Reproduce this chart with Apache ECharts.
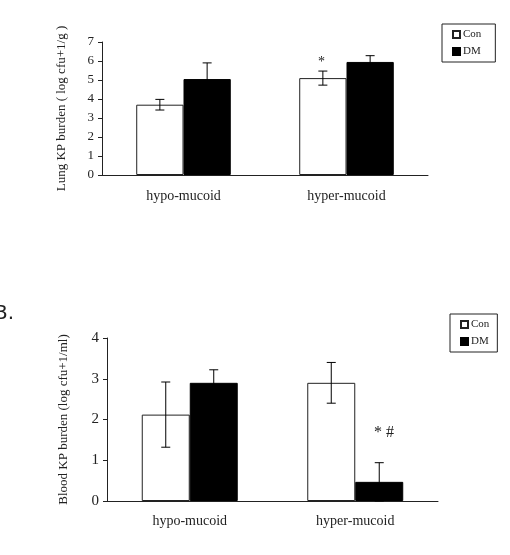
<!DOCTYPE html>
<html>
<head>
<meta charset="utf-8">
<script src="https://cdn.jsdelivr.net/npm/echarts@6/dist/echarts.min.js"></script>
<style>
html, body { margin: 0; padding: 0; background: #fff; }
#main { width: 510px; height: 555px; }
</style>
</head>
<body>
<div id="main"></div>
<script>
'use strict';

// categories
var groups = ['hypo-mucoid', 'hyper-mucoid'];

// A: lung burden (log cfu+1/g)
var lungCon = [3.7, 5.1];
var lungConErr = [0.28, 0.37];
var lungDM = [5.05, 5.95];
var lungDMErr = [0.85, 0.33];

// B: blood burden (log cfu+1/ml)
var bloodCon = [2.12, 2.9];
var bloodConErr = [0.8, 0.5];
var bloodDM = [2.9, 0.47];
var bloodDMErr = [0.32, 0.47];

var serifFont = '"Liberation Serif", "DejaVu Serif", serif';
var barPct = 0.29;

function errData(vals, errs) {
    var out = [];
    for (var i = 0; i < vals.length; i++) {
        out.push([i, vals[i] - errs[i], vals[i] + errs[i]]);
    }
    return out;
}

// error bar drawn through the axis scales; side -1 = Con, +1 = DM
function errRender(side) {
    return function (params, api) {
        var band = api.size([1, 0])[0];
        var lo = api.coord([api.value(0), api.value(1)]);
        var hi = api.coord([api.value(0), api.value(2)]);
        var x = lo[0] + side * band * barPct / 2;
        var cap = 4.5;
        var st = { stroke: '#000', lineWidth: 1 };
        return {
            type: 'group',
            children: [
                { type: 'line', shape: { x1: x, y1: hi[1], x2: x, y2: lo[1] }, style: st },
                { type: 'line', shape: { x1: x - cap, y1: hi[1], x2: x + cap, y2: hi[1] }, style: st },
                { type: 'line', shape: { x1: x - cap, y1: lo[1], x2: x + cap, y2: lo[1] }, style: st }
            ]
        };
    };
}

function xAx(gi, fs, margin) {
    return {
        type: 'category',
        gridIndex: gi,
        data: groups,
        axisLine: { lineStyle: { color: '#222', width: 1 } },
        axisTick: { inside: true, length: 4, lineStyle: { color: '#222' } },
        axisLabel: { color: '#222', fontFamily: serifFont, fontSize: fs, margin: margin }
    };
}

function yAx(gi, max, name, fs, gap) {
    return {
        type: 'value',
        gridIndex: gi,
        min: 0,
        max: max,
        interval: 1,
        name: name,
        nameLocation: 'middle',
        nameRotate: 90,
        nameGap: gap,
        nameTextStyle: { color: '#222', fontFamily: serifFont, fontSize: 13 },
        splitLine: { show: false },
        axisLine: { show: true, lineStyle: { color: '#222', width: 1 } },
        axisTick: { show: true, length: 4, lineStyle: { color: '#222' } },
        axisLabel: { color: '#222', fontFamily: serifFont, fontSize: fs, margin: 8 }
    };
}

function legendAt(left, top, padRight) {
    return {
        left: left,
        top: top,
        orient: 'vertical',
        data: ['Con', 'DM'],
        borderColor: '#222',
        borderWidth: 1,
        borderRadius: 0,
        padding: [5, padRight, 5, 10],
        itemWidth: 7,
        itemHeight: 7,
        itemGap: 6,
        selectedMode: false,
        icon: 'rect',
        textStyle: { color: '#222', fontFamily: serifFont, fontSize: 11, padding: [0, 0, 0, -2] }
    };
}

var conStyle = { color: '#fff', borderColor: '#222', borderWidth: 1 };
var dmStyle = { color: '#000', borderColor: '#000', borderWidth: 1 };

var option = {
    animation: false,
    backgroundColor: '#fff',
    grid: [
        { left: 102, right: 82, top: 42, bottom: 380 },
        { left: 107, right: 72, top: 338, bottom: 54 }
    ],
    xAxis: [xAx(0, 14, 14), xAx(1, 14, 13)],
    yAxis: [
        yAx(0, 7, 'Lung KP burden ( log cfu+1/g )', 13, 34),
        yAx(1, 4, 'Blood KP burden (log cfu+1/ml)', 15, 37)
    ],
    legend: [legendAt(442, 24, 14), legendAt(450, 314, 8)],
    graphic: [
        { type: 'text', left: 2, top: -15, style: { text: 'A.', fontSize: 20, fontFamily: '"DejaVu Sans", sans-serif', fill: '#222' } },
        { type: 'text', left: -6, top: 304, style: { text: 'B.', fontSize: 20, fontFamily: '"DejaVu Sans", sans-serif', fill: '#222' } },
        { type: 'text', left: 318, top: 55, style: { text: '*', fontSize: 14, fontFamily: serifFont, fill: '#222' } },
        { type: 'text', left: 374, top: 425, style: { text: '* #', fontSize: 16, fontFamily: serifFont, fill: '#222' } }
    ],
    series: [
        { name: 'Con', type: 'bar', xAxisIndex: 0, yAxisIndex: 0, data: lungCon, barWidth: '29%', barGap: '0%', itemStyle: conStyle },
        { name: 'DM', type: 'bar', xAxisIndex: 0, yAxisIndex: 0, data: lungDM, barWidth: '29%', barGap: '0%', itemStyle: dmStyle },
        { name: 'Con', type: 'bar', xAxisIndex: 1, yAxisIndex: 1, data: bloodCon, barWidth: '29%', barGap: '0%', itemStyle: conStyle },
        { name: 'DM', type: 'bar', xAxisIndex: 1, yAxisIndex: 1, data: bloodDM, barWidth: '29%', barGap: '0%', itemStyle: dmStyle },
        { type: 'custom', xAxisIndex: 0, yAxisIndex: 0, z: 5, renderItem: errRender(-1), data: errData(lungCon, lungConErr) },
        { type: 'custom', xAxisIndex: 0, yAxisIndex: 0, z: 5, renderItem: errRender(1), data: errData(lungDM, lungDMErr) },
        { type: 'custom', xAxisIndex: 1, yAxisIndex: 1, z: 5, renderItem: errRender(-1), data: errData(bloodCon, bloodConErr) },
        { type: 'custom', xAxisIndex: 1, yAxisIndex: 1, z: 5, renderItem: errRender(1), data: errData(bloodDM, bloodDMErr) }
    ]
};

var chart = echarts.init(document.getElementById('main'));
chart.setOption(option);
</script>
</body>
</html>
